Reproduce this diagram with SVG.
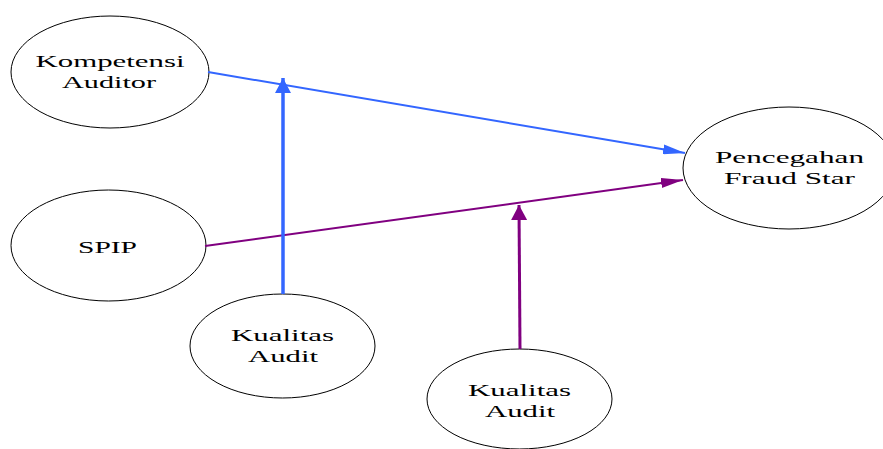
<svg xmlns="http://www.w3.org/2000/svg" width="883" height="449" viewBox="0 0 883 449">
<style>
.node ellipse{fill:#fff;stroke:#000;stroke-width:1}
.node text{font-family:"Liberation Serif","Times New Roman",serif;font-size:17px;fill:#000;text-anchor:middle}
.blue{stroke:#3366ff;fill:none}
.purple{stroke:#800080;fill:none}
</style>
<defs>
<marker id="aBlue" markerUnits="userSpaceOnUse" markerWidth="22" markerHeight="10" refX="22" refY="5" orient="auto"><path d="M0,0 L22,5 L0,10 z" fill="#3366ff"/></marker>
<marker id="aPurple" markerUnits="userSpaceOnUse" markerWidth="22" markerHeight="10" refX="22" refY="5" orient="auto"><path d="M0,0 L22,5 L0,10 z" fill="#800080"/></marker>
<marker id="aBlueT" markerUnits="userSpaceOnUse" markerWidth="15" markerHeight="16" refX="15" refY="8" orient="auto"><path d="M0,0 L15,8 L0,16 z" fill="#3366ff"/></marker>
<marker id="aPurpleT" markerUnits="userSpaceOnUse" markerWidth="15" markerHeight="16" refX="15" refY="8" orient="auto"><path d="M0,0 L15,8 L0,16 z" fill="#800080"/></marker>
</defs>
<rect width="883" height="449" fill="#fff"/>
<g id="n-kompetensi" class="node">
<ellipse cx="110" cy="72" rx="99" ry="56"/>
<text x="110" y="67" textLength="149" lengthAdjust="spacingAndGlyphs">Kompetensi</text>
<text x="109" y="88" textLength="94" lengthAdjust="spacingAndGlyphs">Auditor</text>
</g>
<g id="n-pencegahan" class="node">
<ellipse cx="789" cy="168" rx="106" ry="61"/>
<text x="789.5" y="163" textLength="149" lengthAdjust="spacingAndGlyphs">Pencegahan</text>
<text x="789.5" y="184" textLength="131" lengthAdjust="spacingAndGlyphs">Fraud Star</text>
</g>
<g id="n-spip" class="node">
<ellipse cx="108.5" cy="245.5" rx="97.5" ry="55.5"/>
<text x="107.5" y="253" textLength="59" lengthAdjust="spacingAndGlyphs">SPIP</text>
</g>
<g id="n-kualitas1" class="node">
<ellipse cx="282.5" cy="346" rx="92.5" ry="52"/>
<text x="282.5" y="341" textLength="103" lengthAdjust="spacingAndGlyphs">Kualitas</text>
<text x="283" y="362" textLength="70" lengthAdjust="spacingAndGlyphs">Audit</text>
</g>
<g id="n-kualitas2" class="node">
<ellipse cx="519.5" cy="399" rx="92.5" ry="50"/>
<text x="519.5" y="396" textLength="103" lengthAdjust="spacingAndGlyphs">Kualitas</text>
<text x="520" y="417" textLength="70" lengthAdjust="spacingAndGlyphs">Audit</text>
</g>
<g id="connectors">
<line class="blue" x1="208" y1="72" x2="685" y2="153" stroke-width="2" marker-end="url(#aBlue)"/>
<line class="purple" x1="205" y1="246" x2="683" y2="180" stroke-width="2" marker-end="url(#aPurple)"/>
<line class="blue" x1="283" y1="294" x2="283" y2="78" stroke-width="3.5" marker-end="url(#aBlueT)"/>
<line class="purple" x1="520" y1="349" x2="519" y2="205" stroke-width="3" marker-end="url(#aPurpleT)"/>
</g>
</svg>
